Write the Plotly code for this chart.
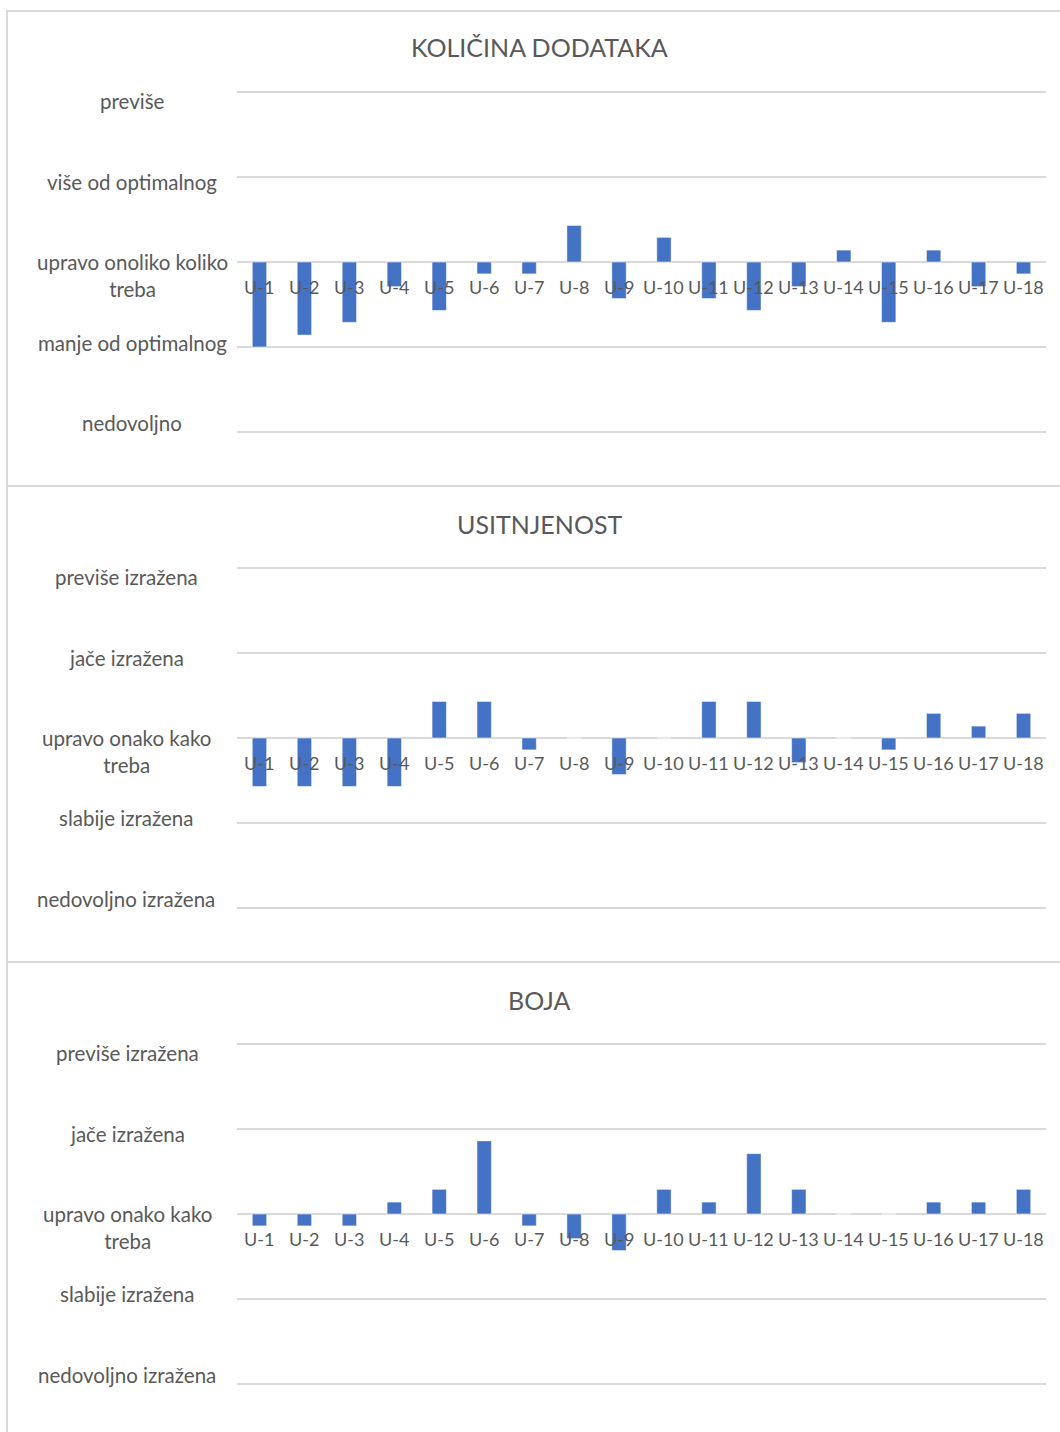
import plotly.graph_objects as go
from plotly.subplots import make_subplots

W, H = 1060, 1432

categories = ["U-1", "U-2", "U-3", "U-4", "U-5", "U-6", "U-7", "U-8", "U-9",
              "U-10", "U-11", "U-12", "U-13", "U-14", "U-15", "U-16", "U-17", "U-18"]

titles = ["KOLIČINA DODATAKA", "USITNJENOST", "BOJA"]

kolicina_values = [-1.0, -0.86, -0.71, -0.29, -0.57, -0.14, -0.14, 0.43, -0.43,
                   0.29, -0.43, -0.57, -0.29, 0.14, -0.71, 0.14, -0.29, -0.14]
usitnjenost_values = [-0.57, -0.57, -0.57, -0.57, 0.43, 0.43, -0.14, 0.0, -0.43,
                      0.0, 0.43, 0.43, -0.29, 0.0, -0.14, 0.29, 0.14, 0.29]
boja_values = [-0.14, -0.14, -0.14, 0.14, 0.29, 0.86, -0.14, -0.29, -0.43,
               0.29, 0.14, 0.71, 0.29, 0.0, 0.0, 0.14, 0.14, 0.29]

levels = [2, 1, 0, -1, -2]
kolicina_labels = ["previše", "više od optimalnog", "upravo onoliko koliko<br>treba",
                   "manje od optimalnog", "nedovoljno"]
izrazenost_labels = ["previše izražena", "jače izražena", "upravo onako kako<br>treba",
                     "slabije izražena", "nedovoljno izražena"]

series = [kolicina_values, usitnjenost_values, boja_values]
ylabels = [kolicina_labels, izrazenost_labels, izrazenost_labels]

FONT = "Lato"
TXT = "#595959"
GRID = "#d9d9d9"
BAR = "#4472C4"

# pixel layout: gridline at +2 / -2, panel boxes
plot_tops = [92, 568, 1044]
plot_bots = [432, 908, 1384]
panel_tops = [11, 486, 962]
panel_bots = [486, 962, 1440]
title_y = [47, 524, 1000]
label_x = [132, 126, 127]
x0px, x1px = 237, 1046
PAD = 4  # px of padding so edge gridlines are drawn
YR = 2.0

fig = make_subplots(rows=3, cols=1)

for i in range(3):
    r = i + 1
    fig.add_trace(go.Bar(x=categories, y=series[i],
                         marker=dict(color=BAR, line=dict(color="rgba(255,255,255,0.5)", width=1)),
                         showlegend=False, hoverinfo="skip"), row=r, col=1)
    xa = "xaxis" if i == 0 else f"xaxis{r}"
    ya = "yaxis" if i == 0 else f"yaxis{r}"
    span_px = plot_bots[i] - plot_tops[i]
    pad_units = PAD * (2 * YR) / span_px
    fig.layout[xa].update(domain=[x0px / W, x1px / W], showticklabels=False, showgrid=False,
                          zeroline=False, showline=False, range=[-0.5, len(categories) - 0.5])
    fig.layout[ya].update(domain=[1 - (plot_bots[i] + PAD) / H, 1 - (plot_tops[i] - PAD) / H],
                          range=[-YR - pad_units, YR + pad_units],
                          tickvals=levels, showticklabels=False, showgrid=True, gridcolor=GRID,
                          gridwidth=1.5, zeroline=False, showline=False)
    xref = "x" if i == 0 else f"x{r}"
    yref = "y" if i == 0 else f"y{r}"
    # category labels next to zero line
    for c in categories:
        fig.add_annotation(x=c, y=0, xref=xref, yref=yref, text=c, showarrow=False,
                           yanchor="middle", yshift=-25, font=dict(family=FONT, size=18, color=TXT))
    # level labels
    for lv, lab in zip(levels, ylabels[i]):
        two = "<br>" in lab
        fig.add_annotation(x=label_x[i] / W, xref="paper", y=lv * 0.947, yref=yref, text=lab,
                           showarrow=False, xanchor="center", yanchor="middle",
                           yshift=(-13.5 if two else 0), align="center",
                           font=dict(family=FONT, size=20.5, color=TXT))
    # title
    fig.add_annotation(x=539 / W, y=1 - title_y[i] / H, xref="paper", yref="paper", text=titles[i],
                       showarrow=False, xanchor="center", yanchor="middle",
                       font=dict(family=FONT, size=25, color=TXT))
    # panel border
    fig.add_shape(type="rect", xref="paper", yref="paper", x0=7 / W, x1=1080 / W,
                  y0=1 - panel_bots[i] / H, y1=1 - panel_tops[i] / H,
                  line=dict(color=GRID, width=2), layer="below")

fig.update_layout(width=W, height=H, margin=dict(l=0, r=0, t=0, b=0), bargap=0.68,
                  plot_bgcolor="white", paper_bgcolor="white", font=dict(family=FONT, color=TXT),
                  hovermode=False)

fig.write_html("out.html", config={"displayModeBar": False},
               post_script="document.body.style.margin='0';document.body.style.overflow='hidden';")
